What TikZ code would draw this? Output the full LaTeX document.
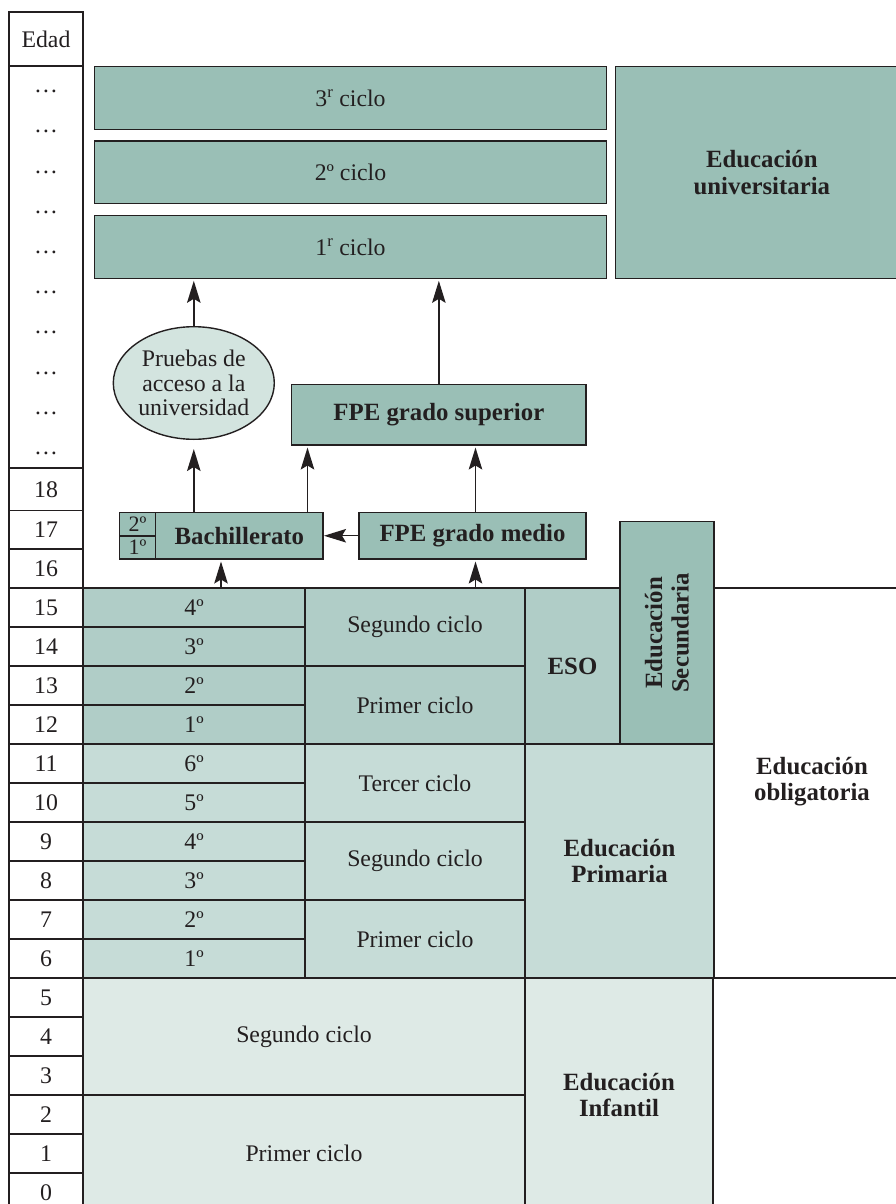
\documentclass[tikz,border=0pt]{standalone}
\usepackage{fontspec}
\setmainfont{Liberation Serif}
\usetikzlibrary{shapes.geometric,arrows.meta,calc}
\definecolor{dark}{HTML}{9ABFB6}
\definecolor{eso}{HTML}{B0CDC7}
\definecolor{prim}{HTML}{C6DCD7}
\definecolor{inf}{HTML}{DEEAE6}
\definecolor{ell}{HTML}{D3E4DF}
\definecolor{ln}{HTML}{231F20}
\newcommand\fReg{\fontsize{23.8}{25}\selectfont}
\newcommand\fEll{\fontsize{23.8}{24.8}\selectfont}
\newcommand\fBld{\fontsize{24.8}{26.5}\selectfont\bfseries}
\newcommand\fSm{\fontsize{22}{23}\selectfont}
\newcommand\mkbox[7][]{\node[cell,#1,minimum width={(#5-#3)*1pt},minimum height={(#6-#4)*1pt}] (#2) at ({(#3+#5)/2},{(#4+#6)/2}) {#7};}
\begin{document}
\begin{tikzpicture}[x=1pt,y=-1pt,
  cell/.style={draw=ln,line width=1.4pt,inner sep=0pt,outer sep=0pt,align=center,text=ln,font=\fReg},
  lbl/.style={text=ln,align=center,inner sep=0pt},
  arr/.style={draw=ln,line width=1.4pt,shorten >=2.5pt,-{Stealth[length=22pt,width=13.5pt,inset=4pt]}},
  plain/.style={draw=ln,line width=1.4pt}]
\useasboundingbox (0,0) rectangle (896,1204);
\clip (0,0) rectangle (896,1204);
% ---- age column
\mkbox{edad}{9}{12}{83}{66}{Edad}
\mkbox{dots}{9}{66}{83}{468}{}
\foreach \i in {0,...,9} {\node[lbl,font=\fReg] (d\i) at (46,{67.5+40.2*(\i+0.5)}) {\strut …};}
\mkbox{a18}{9}{468}{83}{510.5}{18}
\mkbox{a17}{9}{510.5}{83}{549}{17}
\mkbox{a16}{9}{549}{83}{588}{16}
\foreach \k in {15,...,0} {\pgfmathsetmacro\yt{588+39*(15-\k)}\pgfmathsetmacro\yb{\yt+39}\mkbox{a\k}{9}{\yt}{83}{\yb}{\k}}
% ---- university
\mkbox[fill=dark]{u3}{94.3}{66.7}{606.7}{129.3}{3\textsuperscript{r} ciclo}
\mkbox[fill=dark]{u2}{94.3}{141}{606.7}{203.7}{2º ciclo}
\mkbox[fill=dark]{u1}{94.3}{215.7}{606.7}{278.3}{1\textsuperscript{r} ciclo}
\mkbox[fill=dark,font=\fBld]{univ}{615.7}{66.7}{908}{278.7}{Educación\\universitaria}
% ---- access
\node[ellipse,draw=ln,line width=1.4pt,fill=ell,minimum width=161pt,minimum height=112.6pt,inner sep=0pt,align=center,font=\fEll,text=ln] (pru) at (193.8,383) {Pruebas de\\acceso a la\\universidad};
\mkbox[fill=dark,font=\fBld]{fpes}{291.7}{384.3}{586}{445}{FPE grado superior}
\mkbox[fill=dark,font=\fBld]{fpem}{359}{512.5}{586}{559}{FPE grado medio}
\mkbox[fill=dark,font=\fBld]{bach}{155.7}{512.5}{323}{559}{Bachillerato}
\mkbox[fill=dark,font=\fSm]{b2}{119.3}{512.5}{155.7}{535.8}{2º}
\mkbox[fill=dark,font=\fSm]{b1}{119.3}{535.8}{155.7}{559}{1º}
% ---- secondary
\mkbox[fill=eso]{g4e}{83}{588}{305}{627}{4º}
\mkbox[fill=eso]{g3e}{83}{627}{305}{666}{3º}
\mkbox[fill=eso]{g2e}{83}{666}{305}{705}{2º}
\mkbox[fill=eso]{g1e}{83}{705}{305}{744}{1º}
\mkbox[fill=eso]{cse}{305}{588}{525}{666}{Segundo ciclo}
\mkbox[fill=eso]{cpe}{305}{666}{525}{744}{Primer ciclo}
\mkbox[fill=eso,font=\fBld]{eso}{525}{588}{620}{744}{ESO}
\mkbox[fill=dark]{secu}{620}{521.7}{714}{744}{}
\node[lbl,rotate=90,font=\fBld] (secuT) at (secu.center) {Educación\\Secundaria};
% ---- primary
\mkbox[fill=prim]{g6p}{83}{744}{305}{783}{6º}
\mkbox[fill=prim]{g5p}{83}{783}{305}{822}{5º}
\mkbox[fill=prim]{g4p}{83}{822}{305}{861}{4º}
\mkbox[fill=prim]{g3p}{83}{861}{305}{900}{3º}
\mkbox[fill=prim]{g2p}{83}{900}{305}{939}{2º}
\mkbox[fill=prim]{g1p}{83}{939}{305}{978}{1º}
\mkbox[fill=prim]{ctp}{305}{744}{525}{822}{Tercer ciclo}
\mkbox[fill=prim]{csp}{305}{822}{525}{900}{Segundo ciclo}
\mkbox[fill=prim]{cpp}{305}{900}{525}{978}{Primer ciclo}
\mkbox[fill=prim,font=\fBld]{prim}{525}{744}{714}{978}{Educación\\Primaria}
% ---- infantil
\mkbox[fill=inf]{csi}{83}{978}{525}{1095}{Segundo ciclo}
\mkbox[fill=inf]{cpi}{83}{1095}{525}{1212}{Primer ciclo}
\mkbox[fill=inf,font=\fBld]{infa}{525}{978}{713}{1212}{Educación\\Infantil}
% ---- obligatoria
\coordinate (rt) at (900,0);
\draw[plain] (secu.east |- eso.north) -- (rt |- eso.north);
\draw[plain] (prim.south east) -- (rt |- prim.south);
\node[lbl,font=\fBld] (oblig) at (812,781.5) {Educación\\obligatoria};
% ---- connectors
\coordinate (xb) at (221,0);
\coordinate (xf) at (307.5,0);
\coordinate (xm) at (475.5,0);
\draw[arr] (g4e.north -| xb) -- (bach.south -| xb);
\draw[arr] (cse.north -| xm) -- (fpem.south -| xm);
\draw[arr,shorten >=1pt] (fpem.west) -- (bach.east);
\draw[arr,shorten >=9pt] (pru.south |- bach.north) -- (pru.south);
\draw[arr] (bach.north -| xf) -- (fpes.south -| xf);
\draw[arr] (fpem.north -| xm) -- (fpes.south -| xm);
\draw[arr] (pru.north) -- (u1.south -| pru.north);
\draw[arr] (fpes.north) -- (u1.south -| fpes.north);
\end{tikzpicture}
\end{document}
